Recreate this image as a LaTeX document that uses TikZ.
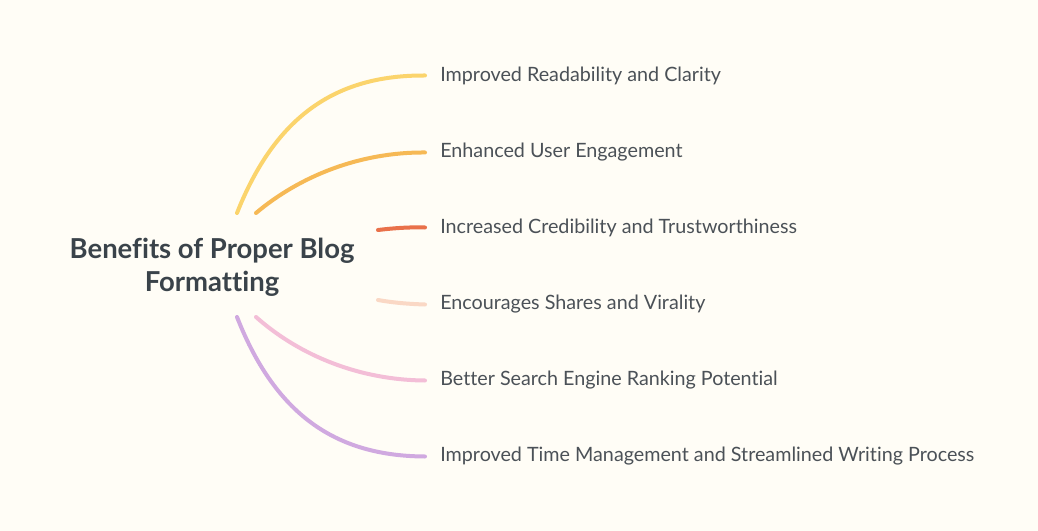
\documentclass[tikz,border=0pt]{standalone}
\usepackage{fontspec}
\setmainfont[Ligatures=NoCommon]{Lato}

\definecolor{bgcream}{HTML}{FFFDF6}
\definecolor{inkgray}{HTML}{4B5157}
\definecolor{titlegray}{HTML}{3A434A}
\definecolor{brYellow}{HTML}{FBD46C}
\definecolor{brOrange}{HTML}{F6B955}
\definecolor{brRed}{HTML}{E9714A}
\definecolor{brPeach}{HTML}{FAD8C5}
\definecolor{brPink}{HTML}{F3BED7}
\definecolor{brPurple}{HTML}{D0A9E0}

\tikzset{
    root label/.style={
      font=\fontsize{20.6}{24.5}\selectfont\bfseries,
      text=titlegray,
      align=center
    },
    leaf label/.style={
      font=\fontsize{14.8}{16}\selectfont,
      text=inkgray,
      anchor=west,
      inner xsep=11.25pt,
      inner ysep=0pt
    },
    branch/.style={
      line width=3pt,
      line cap=round
    }
  }

\begin{document}
\begin{tikzpicture}[x=0.75pt,y=-0.75pt]
      % 背景
      \fill[bgcream] (0,0) rectangle (1038,531);
      \useasboundingbox (0,0) rectangle (1038,531);

      % 中心
      \node[root label] (root) at (212,267) {Benefits of Proper Blog\\Formatting};
      \coordinate (s1) at (237,213);
      \coordinate (s2) at (256,213);
      \coordinate (s3) at (378,230);
      \coordinate (s4) at (378,300);
      \coordinate (s5) at (256,317);
      \coordinate (s6) at (237,317);

      % 項目
      \node[leaf label] (l1) at (425,75.5) {Improved Readability and Clarity};
      \node[leaf label] (l2) at (425,152.5) {Enhanced User Engagement};
      \node[leaf label] (l3) at (425,227.5) {Increased Credibility and Trustworthiness};
      \node[leaf label] (l4) at (425,304.5) {Encourages Shares and Virality};
      \node[leaf label] (l5) at (425,380.5) {Better Search Engine Ranking Potential};
      \node[leaf label] (l6) at (425,456.5) {Improved Time Management and Streamlined Writing Process};

      % 枝
      \draw[branch, brYellow] (s1) .. controls (277,112) and (340,75) .. (l1.west);
      \draw[branch, brOrange] (s2) .. controls (300,176) and (360,152) .. (l2.west);
      \draw[branch, brRed] (s3) .. controls (395,228) and (410,227) .. (l3.west);
      \draw[branch, brPeach] (s4) .. controls (395,303) and (410,304) .. (l4.west);
      \draw[branch, brPink] (s5) .. controls (300,356) and (360,380) .. (l5.west);
      \draw[branch, brPurple] (s6) .. controls (277,419) and (340,456) .. (l6.west);
    \end{tikzpicture}
\end{document}
